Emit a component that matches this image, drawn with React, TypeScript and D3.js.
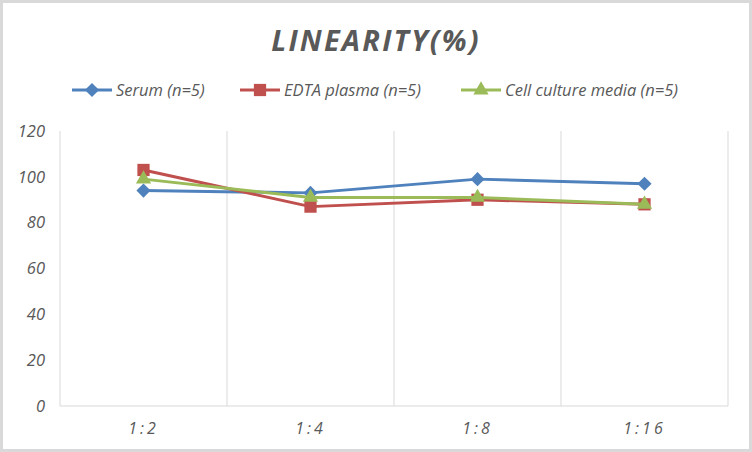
import { useEffect, useRef } from "react"
import * as d3 from "d3"

const categories = ["1:2", "1:4", "1:8", "1:16"]
const serum = [94, 93, 99, 97]
const edta = [103, 87, 90, 88]
const cellCulture = [99, 91, 91, 88]
const yTicks = [0, 20, 40, 60, 80, 100, 120]

const series = [
    { name: "Serum (n=5)", values: serum, color: "#4F81BD", marker: "diamond" },
    { name: "EDTA plasma (n=5)", values: edta, color: "#C0504D", marker: "square" },
    { name: "Cell culture media (n=5)", values: cellCulture, color: "#9BBB59", marker: "triangle" },
]

const App = () => {
    const svgRef = useRef<SVGSVGElement>(null)

    useEffect(() => {
        const width = 752
        const height = 452
        const margin = { top: 131, right: 24, bottom: 46, left: 60 }
        const font = "'Open Sans', sans-serif"
        const textColor = "#595959"

        const svg = d3.select(svgRef.current)
            .attr("width", width)
            .attr("height", height)
            .style("background", "#fff")
        svg.selectAll("*").remove()

        // outer frame
        svg.append("rect")
            .attr("x", 1.5).attr("y", 1.5)
            .attr("width", width - 3).attr("height", height - 3)
            .attr("fill", "#fff")
            .attr("stroke", "#d9d9d9")
            .attr("stroke-width", 3)

        const xBand = d3.scaleBand()
            .domain(categories)
            .range([margin.left, width - margin.right])
        const yScale = d3.scaleLinear()
            .domain([0, 120])
            .range([height - margin.bottom, margin.top])
        const cx = (c: string) => (xBand(c) as number) + xBand.bandwidth() / 2

        // vertical grid lines on category boundaries
        const bounds = categories.map(c => xBand(c) as number).concat([width - margin.right])
        svg.append("g")
            .selectAll("line")
            .data(bounds)
            .join("line")
            .attr("x1", d => d).attr("x2", d => d)
            .attr("y1", margin.top).attr("y2", height - margin.bottom)
            .attr("stroke", "#d9d9d9")
            .attr("stroke-width", 1)

        // x axis baseline
        svg.append("line")
            .attr("x1", margin.left).attr("x2", width - margin.right)
            .attr("y1", yScale(0)).attr("y2", yScale(0))
            .attr("stroke", "#d9d9d9")

        // y tick labels
        svg.append("g")
            .selectAll("text")
            .data(yTicks)
            .join("text")
            .attr("x", 45)
            .attr("y", d => yScale(d))
            .attr("dy", "0.35em")
            .attr("text-anchor", "end")
            .attr("font-family", font)
            .attr("font-style", "italic")
            .attr("font-size", 16.5)
            .attr("fill", textColor)
            .text(d => d)

        // x tick labels
        svg.append("g")
            .selectAll("text")
            .data(categories)
            .join("text")
            .attr("x", d => cx(d))
            .attr("y", 434)
            .attr("text-anchor", "middle")
            .attr("font-family", font)
            .attr("font-style", "italic")
            .attr("font-size", 16)
            .attr("letter-spacing", 3)
            .attr("fill", textColor)
            .text(d => d)

        // title
        svg.append("text")
            .attr("x", width / 2)
            .attr("y", 51)
            .attr("text-anchor", "middle")
            .attr("font-family", font)
            .attr("font-style", "italic")
            .attr("font-weight", "bold")
            .attr("font-size", 29)
            .attr("letter-spacing", 2.2)
            .attr("fill", textColor)
            .text("LINEARITY(%)")

        const drawMarker = (sel: any, m: string) => {
            if (m === "diamond") {
                sel.append("path")
                    .attr("d", d3.symbol(d3.symbolSquare, 100)())
                    .attr("transform", "rotate(45)")
            } else if (m === "square") {
                sel.append("path").attr("d", d3.symbol(d3.symbolSquare, 150)())
            } else {
                sel.append("path").attr("d", d3.symbol(d3.symbolTriangle, 100)())
            }
        }

        const line = d3.line<number>()
            .x((_, i) => cx(categories[i]))
            .y(d => yScale(d))

        series.forEach(s => {
            const g = svg.append("g")
            g.append("path")
                .attr("d", line(s.values))
                .attr("fill", "none")
                .attr("stroke", s.color)
                .attr("stroke-width", 3)
                .attr("stroke-linejoin", "round")
            g.selectAll("g.marker")
                .data(s.values)
                .join("g")
                .attr("class", "marker")
                .attr("transform", (d, i) => `translate(${cx(categories[i])},${yScale(d)})`)
                .attr("fill", s.color)
                .call(drawMarker, s.marker)
        })

        // legend
        const legendX = [72, 240, 461]
        const legendY = 90
        series.forEach((s, i) => {
            const g = svg.append("g").attr("transform", `translate(${legendX[i]},${legendY})`)
            g.append("line")
                .attr("x1", 0).attr("x2", 40)
                .attr("stroke", s.color)
                .attr("stroke-width", 3)
            g.append("g")
                .attr("transform", "translate(20,0)")
                .attr("fill", s.color)
                .call(drawMarker, s.marker)
            g.append("text")
                .attr("x", 44)
                .attr("dy", "0.35em")
                .attr("font-family", font)
                .attr("font-style", "italic")
                .attr("font-size", 16.5)
                .attr("fill", textColor)
                .text(s.name)
        })
    }, [])

    return (
        <div style={{ position: "absolute", left: 0, top: 0 }}>
            <svg ref={svgRef}></svg>
        </div>
    )
}

export default App
